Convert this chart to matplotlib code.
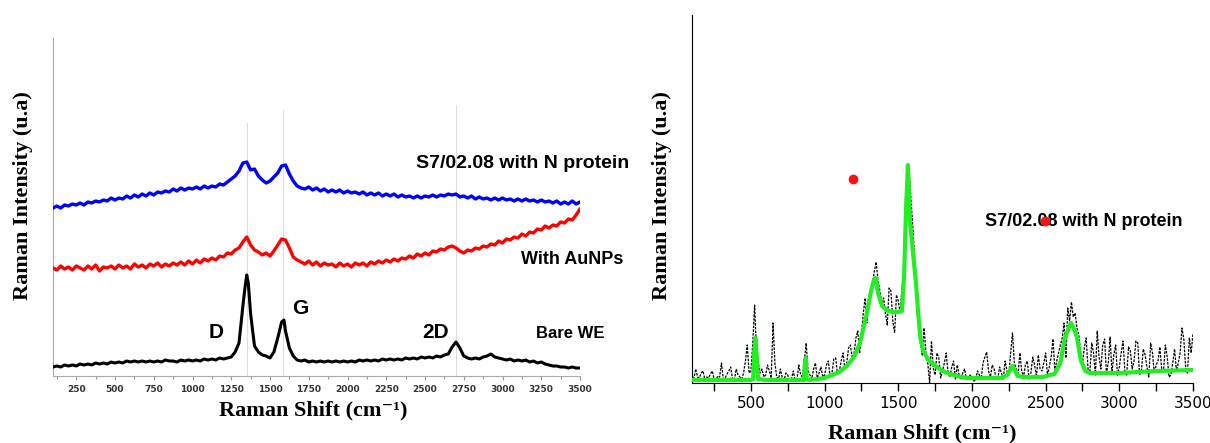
import numpy as np
import matplotlib.pyplot as plt
from matplotlib.ticker import MultipleLocator

# ---- left panel: stacked spectra (heights in arbitrary units) ----
shift = np.arange(100, 3501, 25)
shift_mid = np.arange(112.5, 3500, 25)

blue_protein = [
    168, 170, 168, 171, 170, 172, 171, 173,
    171, 174, 173, 175, 174, 176, 175, 178,
    176, 178, 177, 180, 178, 181, 179, 182,
    180, 183, 181, 184, 183, 185, 184, 187,
    185, 188, 186, 188, 187, 189, 187, 190,
    188, 190, 189, 192, 191, 194, 197, 200,
    205, 213, 214, 206, 207, 200, 196, 193,
    195, 199, 203, 210, 211, 202, 195, 190,
    188, 187, 189, 186, 188, 185, 187, 184,
    186, 184, 186, 183, 185, 183, 184, 182,
    184, 181, 183, 181, 183, 180, 182, 180,
    182, 179, 181, 179, 180, 178, 180, 178,
    180, 179, 181, 179, 181, 180, 182, 181,
    182, 179, 180, 178, 180, 177, 179, 177,
    178, 176, 178, 176, 178, 176, 177, 175,
    177, 175, 177, 175, 176, 174, 176, 174,
    175, 173, 175, 172, 174, 172, 175, 172,
    174]

red_aunps = [
    108, 106, 110, 107, 109, 106, 110, 108,
    106, 110, 107, 111, 105, 109, 108, 110,
    107, 111, 108, 110, 107, 112, 109, 111,
    108, 112, 110, 113, 109, 112, 110, 113,
    111, 114, 111, 115, 112, 116, 113, 117,
    115, 118, 116, 120, 119, 123, 122, 126,
    128, 134, 139, 131, 126, 124, 121, 123,
    120, 125, 131, 137, 136, 128, 119, 116,
    114, 112, 115, 111, 114, 110, 113, 111,
    112, 109, 113, 110, 112, 109, 113, 111,
    113, 110, 114, 112, 115, 113, 116, 114,
    117, 115, 118, 117, 120, 118, 122, 120,
    123, 121, 125, 124, 127, 126, 129, 130,
    128, 125, 123, 126, 125, 128, 127, 130,
    129, 132, 131, 135, 133, 137, 136, 139,
    138, 142, 140, 144, 143, 147, 146, 150,
    148, 151, 150, 154, 153, 157, 156, 161,
    167]

black_bare = [
    9, 10, 9, 11, 10, 11, 10, 12,
    11, 12, 11, 13, 12, 13, 12, 14,
    13, 14, 13, 15, 14, 15, 14, 15,
    14, 15, 14, 15, 14, 16, 15, 15,
    14, 16, 15, 16, 15, 16, 15, 17,
    16, 17, 16, 18, 17, 18, 19, 24,
    33, 70, 101, 62, 30, 24, 21, 20,
    18, 24, 38, 54, 45, 28, 20, 16,
    15, 16, 14, 15, 14, 15, 14, 15,
    14, 15, 14, 15, 14, 15, 14, 16,
    15, 16, 15, 16, 15, 17, 16, 17,
    16, 17, 16, 18, 17, 18, 17, 19,
    18, 19, 18, 20, 19, 21, 22, 29,
    34, 28, 20, 18, 17, 18, 17, 19,
    20, 22, 19, 18, 17, 16, 17, 15,
    16, 15, 16, 14, 15, 13, 14, 12,
    11, 10, 10, 9, 9, 8, 9, 8,
    8]
bare_peak_x = [1340, 1360, 1590]
bare_peak_y = [90, 93, 56]

band_pos = [1350, 1585, 2700]
band_top = [253, 266, 271]

# ---- right panel: raw spectrum and fitted curve ----
raw = [
    8, 14, 5, 12, 6, 9, 4, 7,
    20, 5, 12, 4, 14, 6, 10, 38,
    12, 78, 20, 14, 8, 12, 60, 6,
    14, 3, 8, 4, 3, 18, 6, 40,
    8, 14, 5, 16, 8, 22, 10, 25,
    12, 30, 20, 38, 30, 52, 48, 85,
    82, 100, 121, 92, 85, 58, 92, 50,
    82, 95, 190, 210, 153, 95, 40, 55,
    20, 42, 8, 25, 12, 30, 6, 22,
    18, 4, 14, 3, 6, 3, 8, 20,
    31, 6, 14, 4, 10, 22, 8, 50,
    14, 30, 6, 22, 10, 18, 28, 12,
    30, 16, 44, 22, 38, 60, 75, 81,
    70, 48, 20, 45, 10, 30, 52, 14,
    44, 20, 10, 38, 16, 42, 8, 32,
    22, 40, 12, 28, 6, 30, 18, 36,
    12, 26, 8, 34, 20, 55, 16, 45,
    50]
raw_mid = [
    4, 6, 10, 3, 5, 12, 3, 6,
    4, 9, 16, 3, 8, 4, 22, 10,
    40, 30, 10, 6, 18, 5, 20, 4,
    5, 10, 3, 12, 4, 8, 22, 12,
    4, 20, 10, 6, 18, 6, 24, 9,
    22, 14, 35, 25, 45, 30, 70, 60,
    90, 112, 102, 80, 70, 95, 62, 88,
    70, 110, 215, 180, 120, 70, 28, 30,
    0, 15, 30, 5, 20, 10, 16, 4,
    8, 10, 4, 8, 2, 12, 4, 26,
    12, 18, 6, 16, 4, 12, 30, 20,
    8, 12, 18, 4, 26, 6, 14, 20,
    8, 26, 12, 30, 45, 25, 62, 66,
    55, 30, 35, 14, 40, 8, 26, 38,
    10, 46, 28, 8, 30, 12, 36, 14,
    42, 8, 34, 16, 40, 10, 22, 14,
    38, 6, 20, 12, 30, 44, 10, 30]

fit_x = [100, 300, 500, 515, 522, 530, 538, 548, 600, 860, 866, 872, 878, 900,
         950, 1000, 1050, 1100, 1150, 1200, 1240, 1287, 1315, 1335, 1348, 1362,
         1390, 1420, 1460, 1500, 1525, 1540, 1552, 1565, 1572, 1580, 1600, 1620,
         1635, 1650, 1670, 1700, 1728, 1780, 1830, 1900, 1966, 2100, 2200, 2240,
         2275, 2310, 2350, 2480, 2560, 2600, 2630, 2671, 2690, 2712, 2740, 2770,
         2800, 3000, 3250, 3500]
fit_y = [3, 3, 3, 4, 30, 45, 30, 4, 3, 3, 20, 25, 4, 3,
         4, 5, 8, 11, 17, 26, 40, 70, 92, 103, 105, 90,
         77, 73, 71, 71, 72, 110, 170, 218, 190, 160, 130, 100,
         70, 45, 32, 24, 20, 14, 10, 7, 5, 5, 5, 8,
         17, 7, 6, 6, 9, 20, 45, 60, 55, 46, 22, 12,
         10, 10, 12, 13]

dot_x = [1192, 2495]
dot_y = [204, 162]

fig = plt.figure(figsize=(12.1, 4.43), dpi=100)
serif = ['Liberation Serif', 'DejaVu Serif']
sans = ['Liberation Sans', 'DejaVu Sans']

# left
ax1 = fig.add_axes([53 / 1210, 1 - 376 / 443, 527 / 1210, 338 / 443])
for p, t in zip(band_pos, band_top):
    ax1.plot([p, p], [0, t], color='#dddddd', lw=0.8, zorder=1)
ax1.plot(shift, blue_protein, color='#0000ff', lw=2.4, zorder=3)
ax1.plot(shift, red_aunps, color='#ff0000', lw=2.4, zorder=3)
bx = np.concatenate([shift, bare_peak_x])
by = np.concatenate([black_bare, bare_peak_y])
order = np.argsort(bx)
ax1.plot(bx[order], by[order], color='black', lw=2.2, zorder=3)
ax1.set_xlim(100, 3500)
ax1.set_ylim(0, 338)
ax1.set_yticks([])
ax1.xaxis.set_major_locator(MultipleLocator(250))
ax1.xaxis.set_minor_locator(MultipleLocator(125))
ax1.tick_params(axis='x', which='both', direction='out', colors='#999999',
                labelcolor='#333333', labelsize=6.5, length=3, width=0.8)
ax1.tick_params(axis='x', which='minor', length=2)
for lab in ax1.get_xticklabels():
    lab.set_fontweight('bold')
for s in ['top', 'right']:
    ax1.spines[s].set_visible(False)
ax1.spines['left'].set_color('#aaaaaa')
ax1.spines['bottom'].set_color('#aaaaaa')
ax1.text(2445, 213, 'S7/02.08 with N protein', fontsize=14, fontweight='bold',
         family=sans, va='center', ha='left')
ax1.text(3120, 116, 'With AuNPs', fontsize=13, fontweight='bold',
         family=sans, va='center', ha='left')
ax1.text(3214, 43, 'Bare WE', fontsize=12, fontweight='bold',
         family=sans, va='center', ha='left')
ax1.text(1153, 43, 'D', fontsize=15, fontweight='bold', family=sans,
         va='center', ha='center')
ax1.text(1696, 67, 'G', fontsize=15, fontweight='bold', family=sans,
         va='center', ha='center')
ax1.text(2568, 43, '2D', fontsize=15, fontweight='bold', family=sans,
         va='center', ha='center')

# right
ax2 = fig.add_axes([692 / 1210, 1 - 383 / 443, 501 / 1210, 368 / 443])
rx = np.concatenate([shift, shift_mid])
ry = np.concatenate([raw, raw_mid])
order2 = np.argsort(rx)
ax2.plot(rx[order2], ry[order2], color='black', lw=0.9, linestyle=(0, (2, 1)),
         zorder=2)
ax2.plot(fit_x, fit_y, color='#22ee22', lw=3, zorder=3)
ax2.set_xlim(100, 3500)
ax2.set_ylim(0, 368)
ax2.set_yticks([])
ax2.xaxis.set_major_locator(MultipleLocator(500))
ax2.xaxis.set_minor_locator(MultipleLocator(250))
ax2.tick_params(axis='x', which='both', direction='out', length=6, width=1,
                labelsize=11)
for s in ['top', 'right']:
    ax2.spines[s].set_visible(False)
ax2.text(2088, 162, 'S7/02.08 with N protein', fontsize=13, fontweight='bold',
         family=sans, va='center', ha='left', zorder=4)
ax2.plot(dot_x, dot_y, 'o', color='#ff1111', markersize=6, zorder=5, clip_on=False)

# axis titles
fig.text(23 / 1210, 1 - 196 / 443, 'Raman Intensity (u.a)', rotation=90,
         fontsize=16, fontweight='bold', family=serif, ha='center', va='center')
fig.text(662 / 1210, 1 - 196 / 443, 'Raman Intensity (u.a)', rotation=90,
         fontsize=16, fontweight='bold', family=serif, ha='center', va='center')
fig.text(313 / 1210, 1 - 410 / 443, 'Raman Shift (cm⁻¹)',
         fontsize=16, fontweight='bold', family=serif, ha='center', va='center')
fig.text(922 / 1210, 1 - 433 / 443, 'Raman Shift (cm⁻¹)',
         fontsize=16, fontweight='bold', family=serif, ha='center', va='center')

fig.savefig('out.png', dpi=100)
